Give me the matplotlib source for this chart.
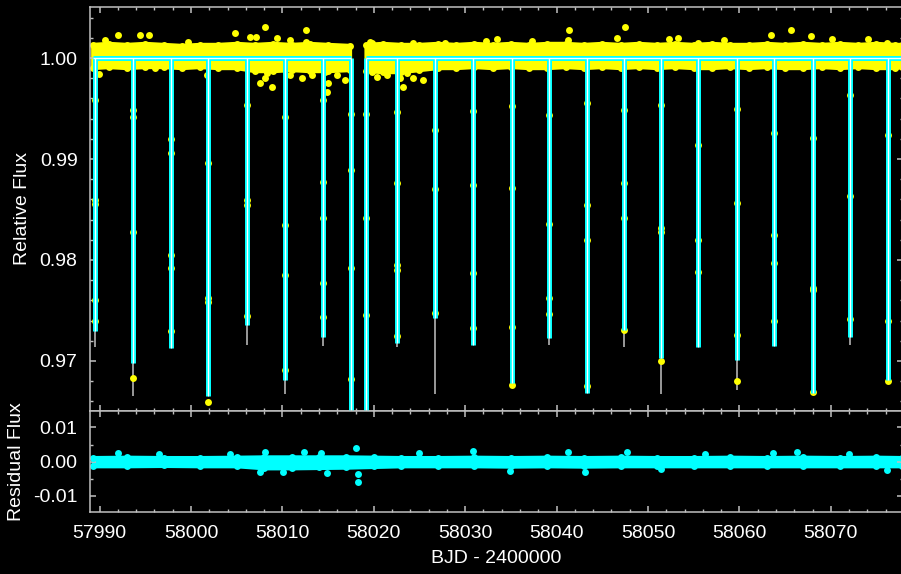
import numpy as np
import matplotlib
matplotlib.use('Agg')
import matplotlib.pyplot as plt
from matplotlib.ticker import MultipleLocator

plt.rcParams['font.family'] = ['Liberation Sans', 'DejaVu Sans']

# transit mid-times (BJD - 2400000), model minimum and lowest grey extent
transit_time = [57989.50, 57993.62, 57997.78, 58001.89, 58006.09, 58010.28, 58014.41,
                58022.51, 58026.70, 58030.89, 58035.09, 58039.20, 58043.29, 58047.41,
                58051.39, 58055.51, 58059.70, 58063.79, 58068.02, 58072.10, 58076.22]
model_min = [0.9730, 0.9698, 0.9713, 0.9665, 0.9736, 0.9681, 0.9724,
             0.9718, 0.9743, 0.9716, 0.9678, 0.9723, 0.9668, 0.9731,
             0.9703, 0.9714, 0.9701, 0.9715, 0.9668, 0.9724, 0.9681]
grey_min = [0.9714, 0.9665, 0.9713, 0.9665, 0.9716, 0.9667, 0.9715,
            0.9714, 0.9667, 0.9716, 0.9678, 0.9716, 0.9668, 0.9714,
            0.9667, 0.9714, 0.9671, 0.9715, 0.9668, 0.9716, 0.9681]
# in-transit flux points per transit
transit_flux = [
    [0.9958, 0.9859, 0.9855, 0.9760, 0.9740],
    [0.9949, 0.9942, 0.9828, 0.9683],
    [0.9920, 0.9906, 0.9805, 0.9792, 0.9730],
    [0.9896, 0.9762, 0.9758, 0.9659],
    [0.9953, 0.9859, 0.9854, 0.9745],
    [0.9942, 0.9835, 0.9785, 0.9691],
    [0.9958, 0.9877, 0.9842, 0.9777, 0.9744],
    [0.9947, 0.9876, 0.9795, 0.9790, 0.9725],
    [0.9929, 0.9870, 0.9748],
    [0.9948, 0.9874, 0.9787, 0.9733],
    [0.9952, 0.9871, 0.9734, 0.9676],
    [0.9944, 0.9836, 0.9762, 0.9747],
    [0.9955, 0.9854, 0.9820, 0.9675],
    [0.9949, 0.9876, 0.9842, 0.9731],
    [0.9953, 0.9832, 0.9828, 0.9700],
    [0.9914, 0.9820, 0.9788],
    [0.9950, 0.9856, 0.9726, 0.9680],
    [0.9926, 0.9825, 0.9797, 0.9740],
    [0.9921, 0.9772, 0.9770, 0.9669],
    [0.9963, 0.9863, 0.9742],
    [0.9924, 0.9740, 0.9680],
]

# data segments (gap in the middle); the model drops off the plot at the gap edges
seg_start = [57989.25, 58019.12]
seg_end = [58017.47, 58077.8]
gap_edge = [58017.47, 58019.12]
gap_edge_min = 0.955
gap_edge_flux = [[0.9945, 0.9889, 0.9792, 0.9682], [0.9945, 0.9842, 0.9746]]

# out-of-transit yellow band (upper / lower envelope)
band_t = [57989.3, 57991, 57993, 57995, 57997, 57999, 58001, 58003, 58005, 58007, 58009,
          58011, 58013, 58015, 58017.4, 58018.3, 58019.2, 58021, 58023, 58025, 58027,
          58029, 58031, 58033, 58035, 58037, 58039, 58041, 58043, 58045, 58047, 58049,
          58051, 58053, 58055, 58057, 58059, 58061, 58063, 58065, 58067, 58069, 58071,
          58073, 58075, 58077, 58077.8]
band_hi = [1.0013, 1.0014, 1.0013, 1.0014, 1.0013, 1.0012, 1.0013, 1.0013, 1.0014, 1.0013, 1.0014,
           1.0013, 1.0014, 1.0013, 1.0012, np.nan, 1.0013, 1.0014, 1.0013, 1.0013, 1.0014,
           1.0013, 1.0014, 1.0013, 1.0014, 1.0013, 1.0014, 1.0014, 1.0013, 1.0014, 1.0013, 1.0014,
           1.0013, 1.0014, 1.0013, 1.0014, 1.0013, 1.0013, 1.0014, 1.0013, 1.0014, 1.0013, 1.0014,
           1.0013, 1.0014, 1.0013, 1.0013]
band_lo = [0.9990, 0.9991, 0.9990, 0.9991, 0.9991, 0.9990, 0.9991, 0.9990, 0.9990, 0.9987, 0.9987,
           0.9988, 0.9987, 0.9987, 0.9988, np.nan, 0.9987, 0.9986, 0.9986, 0.9988, 0.9990,
           0.9990, 0.9991, 0.9990, 0.9991, 0.9990, 0.9990, 0.9991, 0.9990, 0.9991, 0.9990, 0.9991,
           0.9990, 0.9991, 0.9990, 0.9990, 0.9991, 0.9990, 0.9991, 0.9990, 0.9990, 0.9991, 0.9990,
           0.9991, 0.9990, 0.9990, 0.9991]
# scattered points outside the band
out_t = [57990.59, 57992.01, 57994.42, 57995.40, 57999.67, 58004.81, 58006.46, 58008.10,
         58009.41, 58010.83, 58012.58, 58012.58, 58019.58, 58027.79, 58032.3, 58033.5,
         58037.3, 58041.36, 58041.25, 58046.6, 58047.5, 58052.3, 58053.3, 58055.5, 58058.3,
         58063.5, 58065.7, 58067.8, 58070.1, 58074.1, 58076.2, 58007.1, 58019.8, 58024.3,
         57989.93, 57996.06, 58001.75, 58006.46, 58008.10, 58008.86, 58007.55, 58008.32,
         58010.83, 58011.60, 58012.14, 58013.24, 58014.66, 58014.99, 58014.88, 58015.97,
         58016.85, 58016.63, 58019.80, 58020.35, 58021.44, 58022.87, 58023.63, 58024.29,
         58023.19, 58025.38]
out_f = [1.0018, 1.0023, 1.0023, 1.0023, 1.0016, 1.0025, 1.0021, 1.0031,
         1.0020, 1.0018, 1.0028, 1.0016, 1.0016, 1.0015, 1.0017, 1.0019,
         1.0017, 1.0028, 1.0018, 1.0020, 1.0031, 1.0019, 1.0020, 1.0015, 1.0018,
         1.0023, 1.0028, 1.0022, 1.0019, 1.0019, 1.0015, 1.0021, 1.0015, 1.0015,
         0.9984, 0.9990, 0.9983, 0.9990, 0.9980, 0.9971, 0.9975, 0.9985,
         0.9983, 0.9990, 0.9980, 0.9983, 0.9986, 0.9975, 0.9966, 0.9983,
         0.9978, 0.9990, 0.9986, 0.9981, 0.9983, 0.9980, 0.9985, 0.9980,
         0.9971, 0.9978]

# residuals
res_t = [57989.3, 57993, 57997, 58001, 58005, 58008, 58011, 58014, 58017, 58020, 58023,
         58027, 58031, 58035, 58039, 58043, 58047, 58051, 58055, 58059, 58063,
         58067, 58071, 58075, 58077.8]
res_hi = [0.0012, 0.0013, 0.0012, 0.0012, 0.0013, 0.0014, 0.0014, 0.0014, 0.0014, 0.0013, 0.0012,
          0.0012, 0.0013, 0.0012, 0.0013, 0.0012, 0.0013, 0.0012, 0.0012, 0.0013, 0.0012,
          0.0013, 0.0012, 0.0013, 0.0012]
res_lo = [-0.0012, -0.0012, -0.0011, -0.0012, -0.0012, -0.0018, -0.0018, -0.0017, -0.0016, -0.0014, -0.0012,
          -0.0012, -0.0012, -0.0013, -0.0012, -0.0013, -0.0012, -0.0012, -0.0012, -0.0012, -0.0012,
          -0.0012, -0.0012, -0.0012, -0.0012]
res_out_t = [57992.01, 58008.10, 58012.36, 58014.22, 58018.05, 58018.27, 58018.27, 58007.55,
             58010.07, 58014.88, 58030.85, 58041.25, 58047.70, 58063.68, 58066.30, 58034.90,
             58043.11, 58051.42, 58076.15, 57996.5, 58004.3, 58024.9, 58056.2, 58072.0]
res_out_r = [0.0026, 0.0029, 0.0029, 0.0026, 0.0041, -0.0059, -0.0035, -0.0029,
             -0.0029, -0.0032, 0.0032, 0.0029, 0.0029, 0.0026, 0.0029, -0.0026,
             -0.0029, -0.0021, -0.0024, 0.0022, 0.0023, 0.0024, 0.0023, 0.0022]

CYAN = '#00ffff'

fig = plt.figure(figsize=(9.01, 5.74), dpi=100, facecolor='black')
ax1 = fig.add_axes([0.0999, 0.2840, 0.902, 0.7038])
ax2 = fig.add_axes([0.0999, 0.1080, 0.902, 0.1760])

# top panel: out-of-transit data
ax1.fill_between(band_t, band_lo, band_hi, color='yellow', edgecolor='yellow', lw=3, zorder=1)
ax1.plot(band_t, band_hi, 'o', color='yellow', ms=5, mec='none', zorder=1)
ax1.plot(band_t, band_lo, 'o', color='yellow', ms=5, mec='none', zorder=1)
ax1.plot(out_t, out_f, 'o', color='yellow', ms=5, mec='none', zorder=1)

# in-transit data
ax1.vlines(transit_time, grey_min, 1.0, color='#b4b4b4', lw=1.2, zorder=1)
tt = [t for t, fl in zip(transit_time, transit_flux) for _ in fl]
ff = [v for fl in transit_flux for v in fl]
for t, fl in zip(gap_edge, gap_edge_flux):
    tt += [t] * len(fl)
    ff += fl
ax1.plot(tt, ff, 'o', color='yellow', ms=5, mec='none', zorder=2)

# model: thick cyan with a thin white core
dip_t = transit_time + gap_edge
dip_min = model_min + [gap_edge_min] * len(gap_edge)
base = [1.0] * len(seg_start)
ax1.hlines(base, seg_start, seg_end, color=CYAN, lw=3.6, zorder=3)
ax1.vlines(dip_t, dip_min, 1.0, color=CYAN, lw=3.6, zorder=3)
ax1.hlines(base, seg_start, seg_end, color='white', lw=1.0, zorder=4)
ax1.vlines(dip_t, dip_min, 1.0, color='white', lw=1.0, zorder=4)

ax1.set_ylim(0.96505, 1.00505)
ax1.set_yticks([0.97, 0.98, 0.99, 1.00])
ax1.set_yticklabels(['0.97', '0.98', '0.99', '1.00'])
ax1.yaxis.set_minor_locator(MultipleLocator(0.002))
ax1.set_ylabel('Relative Flux', color='white', fontsize=14, labelpad=6)
ax1.tick_params(labelbottom=False)

# bottom panel: residuals
ax2.fill_between(res_t, res_lo, res_hi, color=CYAN, edgecolor=CYAN, lw=3, zorder=1)
ax2.plot(res_t, res_hi, 'o', color=CYAN, ms=5, mec='none')
ax2.plot(res_t, res_lo, 'o', color=CYAN, ms=5, mec='none')
ax2.plot(res_out_t, res_out_r, 'o', color=CYAN, ms=5, mec='none')
ax2.set_ylim(-0.0147, 0.0148)
ax2.set_yticks([-0.01, 0.0, 0.01])
ax2.set_yticklabels(['-0.01', '0.00', '0.01'])
ax2.yaxis.set_minor_locator(MultipleLocator(0.005))
ax2.set_ylabel('Residual Flux', color='white', fontsize=14, labelpad=6)
ax2.set_xlabel('BJD - 2400000', color='white', fontsize=14, labelpad=6)

for ax in (ax1, ax2):
    ax.set_facecolor('black')
    ax.set_xlim(57988.95, 58077.87)
    ax.xaxis.set_major_locator(MultipleLocator(10))
    ax.xaxis.set_minor_locator(MultipleLocator(2))
    ax.xaxis.set_major_formatter(matplotlib.ticker.FormatStrFormatter('%d'))
    for s in ax.spines.values():
        s.set_color('#c0c0c0')
        s.set_linewidth(1.1)
    ax.tick_params(which='both', direction='in', top=True, right=True,
                   color='#c0c0c0', labelcolor='white', labelsize=14, pad=9)
    ax.tick_params(which='major', length=4, width=1.1)
    ax.tick_params(which='minor', length=2.3, width=1.0)

fig.savefig('out.png', dpi=100, facecolor='black')
